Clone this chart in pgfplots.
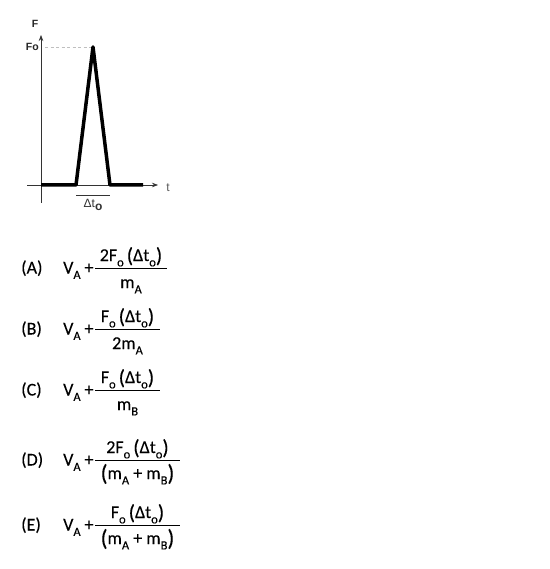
\documentclass[border=0pt]{standalone}
\usepackage{pgfplots}
\pgfplotsset{compat=1.18}
\usetikzlibrary{arrows.meta}
\usepackage{fontspec}
\setmainfont{Carlito}[FakeBold=0.1]
\newfontfamily\arial{Liberation Sans}
\newcommand{\sub}[1]{\raisebox{-0.3em}{\fontsize{12.5}{12.5}\selectfont #1}}
\newcommand{\lp}{\raisebox{-0.08em}{\fontsize{21}{21}\selectfont(}}
\newcommand{\rp}{\raisebox{-0.08em}{\fontsize{21}{21}\selectfont)}}
\newcommand{\blp}{\raisebox{-0.1em}{\fontsize{23}{23}\selectfont(}}
\newcommand{\brp}{\raisebox{-0.1em}{\fontsize{23}{23}\selectfont)}}
\newcommand{\opt}[6]{%
  \pgfmathsetmacro{\by}{-#1}%
  \pgfmathsetmacro{\bl}{-(#1+5.5)}%
  \pgfmathsetmacro{\nb}{-(#1-7)}%
  \pgfmathsetmacro{\db}{-(#1+#6)}%
  \pgfmathsetmacro{\cx}{(95+#5)/2}%
  \node[anchor=base west, inner sep=0pt] at (21pt,\bl pt) {(#2)};
  \node[anchor=base west, inner sep=0pt] at (63pt,\bl pt) {V\sub{A}};
  \node[anchor=base, inner sep=0pt] at (89pt,\bl pt) {+};
  \draw[line width=1pt] (95pt,\by pt) -- (#5pt,\by pt);
  \node[anchor=base, inner sep=0pt] at (\cx pt,\nb pt) {#3};
  \node[anchor=base, inner sep=0pt] at (\cx pt,\db pt) {#4};
}
\begin{document}
\begin{tikzpicture}[font=\fontsize{18}{18}\selectfont]
\path[use as bounding box, fill=white] (0pt,0pt) rectangle (549pt,-569pt);
\begin{axis}[
  at={(27pt,-203pt)}, anchor=south west,
  scale only axis, width=131pt, height=168pt,
  xmin=-14, xmax=117, ymin=-18, ymax=150,
  axis lines=middle,
  axis line style={black!80, line width=0.7pt, -{Stealth[length=6pt,width=4.5pt]}},
  xtick=\empty, ytick=\empty, clip=false]
\addplot[gray!50, dashed, line width=0.9pt, dash pattern=on 3pt off 2.5pt] coordinates {(4,138) (50,138)};
\addplot[black, line width=3.5pt, line join=round] coordinates {(0,0) (35,0) (52,138) (69,0) (102,0)};
\end{axis}
\node[font=\arial\bfseries\fontsize{10.5}{10.5}\selectfont, anchor=east, inner sep=0pt, text=black!85] at (39pt,-47pt) {Fo};
\node[font=\arial\bfseries\fontsize{10.5}{10.5}\selectfont, inner sep=0pt, text=black!85] at (35pt,-24pt) {F};
\node[font=\arial\fontsize{12}{12}\selectfont, text=black!65, inner sep=0pt] at (168pt,-188pt) {t};
\draw[black!80, line width=0.7pt] (76pt,-195pt) -- (110pt,-195pt);
\node[font=\arial\fontsize{12}{12}\selectfont, inner sep=0pt, text=black!80] at (93pt,-205pt) {Δt\raisebox{-0.2em}{\textbf{o}}};
\opt{268}{A}{2F\sub{o}\,\lp Δt\sub{o}\rp}{m\sub{A}}{167}{20}
\opt{329}{B}{F\sub{o}\,\lp Δt\sub{o}\rp}{2m\sub{A}}{160}{20}
\opt{390}{C}{F\sub{o}\,\lp Δt\sub{o}\rp}{m\sub{B}}{160}{20}
\opt{460}{D}{2F\sub{o}\,\lp Δt\sub{o}\rp}{\blp m\sub{A} + m\sub{B}\brp}{180}{19}
\opt{525}{E}{F\sub{o}\,\lp Δt\sub{o}\rp}{\blp m\sub{A} + m\sub{B}\brp}{180}{19}
\end{tikzpicture}
\end{document}
